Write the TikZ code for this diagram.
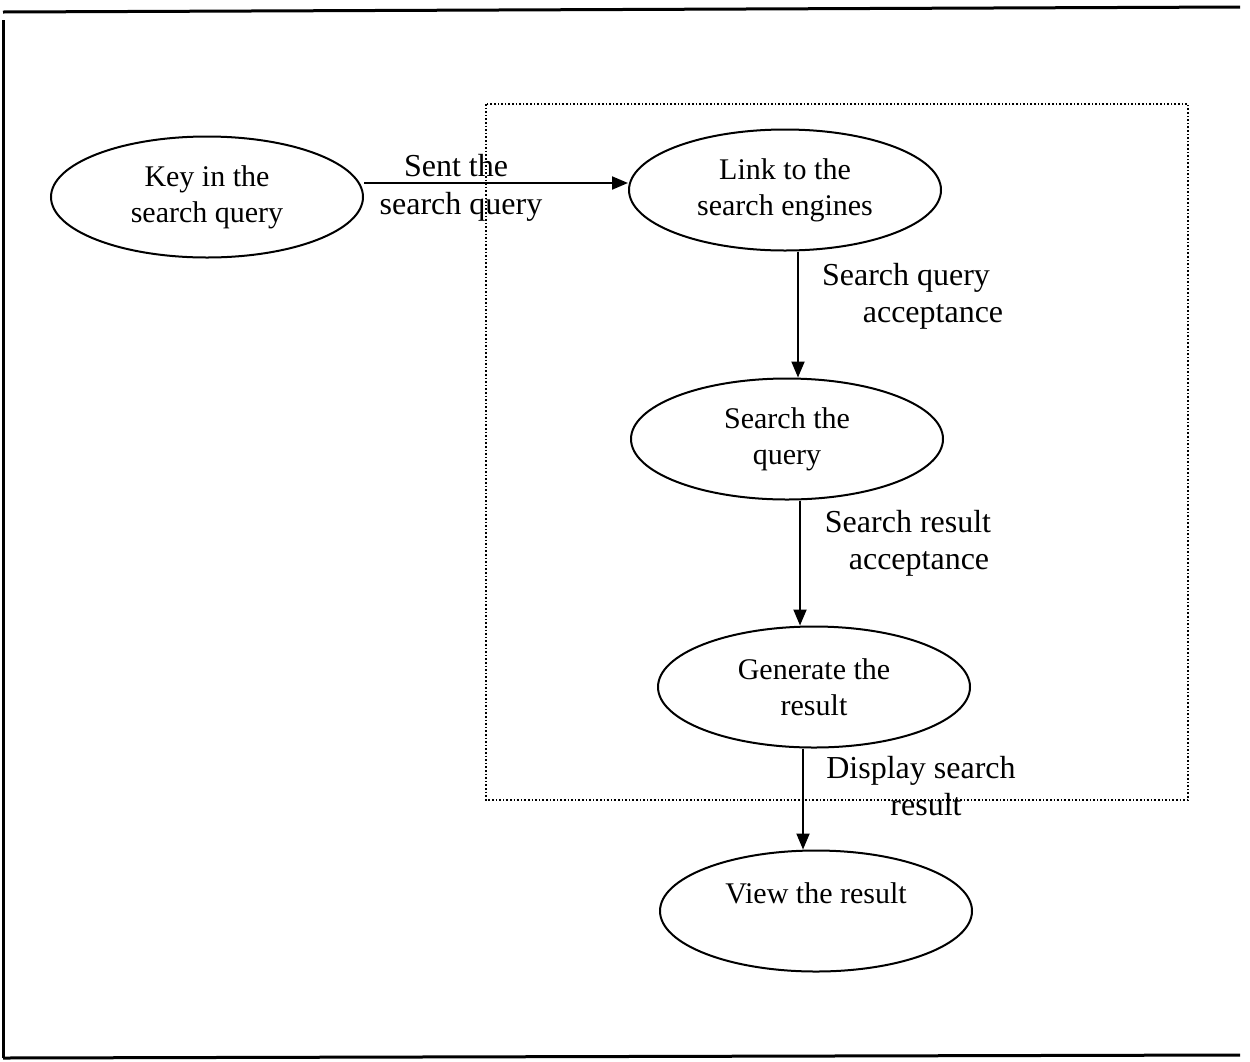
\documentclass[tikz,border=0pt]{standalone}
\usepackage{fontspec}
\setmainfont{Liberation Serif}
\usetikzlibrary{shapes.geometric,arrows.meta}
\begin{document}
\begin{tikzpicture}[x=1pt,y=-1pt,
  proc/.style={draw,ellipse,line width=2pt,minimum width=312pt,minimum height=121pt,
    inner sep=0pt,align=center,font=\fontsize{30}{36}\selectfont},
  flow/.style={line width=2pt,-{Triangle[length=16pt,width=13pt]}},
  lbl/.style={font=\fontsize{32}{38}\selectfont,inner sep=0pt,anchor=base},
  frameline/.style={line width=3pt},
  sysbox/.style={line width=1.6pt,dotted}]
\useasboundingbox (0,0) rectangle (1250,1061);
% outer frame (top, left, bottom)
\coordinate (f1) at (3,12);
\coordinate (f2) at (1240,7);
\coordinate (f3) at (3,1058);
\coordinate (f4) at (1240,1055);
\coordinate (f0) at (3,20);
\draw[frameline] (f1) -- (f2);
\draw[frameline] (f0) -- (f3);
\draw[frameline] (f3) -- (f4);
% dotted system boundary
\coordinate (b1) at (486,104);
\coordinate (b2) at (1188,800);
\draw[sysbox] (b1) rectangle (b2);
% processes
\node[proc] (key) at (207,197) {Key in the\\search query};
\node[proc] (link) at (785,190) {Link to the\\search engines};
\node[proc] (search) at (787,439) {Search the\\query};
\node[proc] (gen) at (814,687) {Generate the\\result};
\node[proc] (view) at (816,911) {View the result\\\mbox{}};
% connectors
\draw[flow] (key.east |- 0,183) -- (link.west |- 0,183);
\draw[flow] (798,0 |- link.south) -- (798,0 |- search.north);
\draw[flow] (800,0 |- search.south) -- (800,0 |- gen.north);
\draw[flow] (803,0 |- gen.south) -- (803,0 |- view.north);
% labels
\node[lbl] (l1a) at (456,176) {Sent the};
\node[lbl] (l1b) at (461,214) {search query};
\node[lbl] (l2a) at (906,285) {Search query};
\node[lbl] (l2b) at (933,322) {acceptance};
\node[lbl] (l3a) at (908,532) {Search result};
\node[lbl] (l3b) at (919,569) {acceptance};
\node[lbl] (l4a) at (921,778) {Display search};
\node[lbl] (l4b) at (926,815) {result};
\end{tikzpicture}
\end{document}
